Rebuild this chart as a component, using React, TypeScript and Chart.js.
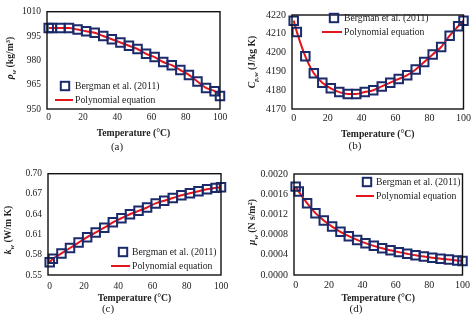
import React, { useEffect, useRef } from "react";
import { Chart, registerables } from "chart.js";

Chart.register(...registerables);

// ---------- data ----------
const temperature = [0, 1.85, 6.85, 11.85, 16.85, 21.85, 26.85, 31.85, 36.85, 41.85, 46.85, 51.85, 56.85, 61.85, 66.85, 71.85, 76.85, 81.85, 86.85, 91.85, 96.85, 100];
const densityBergman = [1000, 1000, 1000, 1000, 999, 998, 997, 995, 993, 991, 989, 987, 984, 982, 979, 977, 974, 971, 967, 963, 961, 958];
const cpBergman = [4217, 4211, 4198, 4189, 4184, 4181, 4179, 4178, 4178, 4179, 4180, 4182, 4184, 4186, 4188, 4191, 4195, 4199, 4203, 4209, 4214, 4217];
const kBergman = [0.569, 0.574, 0.582, 0.59, 0.598, 0.606, 0.613, 0.62, 0.628, 0.634, 0.64, 0.645, 0.65, 0.656, 0.66, 0.664, 0.668, 0.671, 0.674, 0.677, 0.679, 0.68];
const muBergman = [0.00175, 0.001652, 0.001422, 0.001225, 0.00108, 0.000959, 0.000855, 0.000769, 0.000695, 0.000631, 0.000577, 0.000528, 0.000489, 0.000453, 0.00042, 0.000389, 0.000365, 0.000343, 0.000324, 0.000306, 0.000289, 0.000279];

const xTicks = [0, 20, 40, 60, 80, 100];
const rhoTicks = [950, 965, 980, 995, 1010];
const cpTicks = [4170, 4180, 4190, 4200, 4210, 4220];
const kTicks = [0.55, 0.58, 0.61, 0.64, 0.67, 0.7];
const muTicks = [0, 0.0004, 0.0008, 0.0012, 0.0016, 0.002];

const legendLabels = ["Bergman et al. (2011)", "Polynomial equation"];
const xTitle = "Temperature (°C)";
const captions = ["(a)", "(b)", "(c)", "(d)"];

// ---------- styles ----------
const FONT = '"Liberation Serif", "Times New Roman", serif';
const NAVY = "#1b2a6b";
const RED = "#e3151b";
const TEXT = "#222222";

type Seg = { t: string; it?: boolean; sub?: boolean; sup?: boolean };

type PanelSpec = {
  x: number; y: number; w: number; h: number;
  area: { l: number; r: number; t: number; b: number };
  values: number[];
  yTicks: number[];
  dec: number;
  yTitle: Seg[];
  yTitlePos: [number, number];
  caption: string;
  capPos: [number, number];
  legend: { mx: number; y1: number; y2: number; lx1: number; lx2: number; tx: number };
  xPad: number;
  xH: number;
  tickSize: number;
};

const panels: PanelSpec[] = [
  {
    x: 0, y: 0, w: 237, h: 162,
    area: { l: 47, r: 220, t: 7, b: 109 },
    values: densityBergman, yTicks: rhoTicks, dec: 0,
    yTitle: [{ t: "ρ", it: true }, { t: "w", it: true, sub: true }, { t: " (kg/m" }, { t: "3", sup: true }, { t: ")" }],
    yTitlePos: [10, 58],
    caption: captions[0], capPos: [117, 147],
    legend: { mx: 65, y1: 86, y2: 100, lx1: 55, lx2: 73, tx: 75 },
    xPad: 3, xH: 30, tickSize: 9.5,
  },
  {
    x: 237, y: 0, w: 237, h: 162,
    area: { l: 55, r: 227, t: 15, b: 109 },
    values: cpBergman, yTicks: cpTicks, dec: 0,
    yTitle: [{ t: "C", it: true }, { t: "p,w", it: true, sub: true }, { t: " (J/kg K)" }],
    yTitlePos: [15, 62],
    caption: captions[1], capPos: [118, 146],
    legend: { mx: 97, y1: 18, y2: 32, lx1: 85, lx2: 105, tx: 107 },
    xPad: 3, xH: 31, tickSize: 10,
  },
  {
    x: 0, y: 162, w: 237, h: 161,
    area: { l: 48, r: 221, t: 11, b: 113 },
    values: kBergman, yTicks: kTicks, dec: 2,
    yTitle: [{ t: "k", it: true }, { t: "w", it: true, sub: true }, { t: " (W/m K)" }],
    yTitlePos: [8, 68],
    caption: captions[2], capPos: [108, 147],
    legend: { mx: 123, y1: 90, y2: 104, lx1: 111, lx2: 130, tx: 132 },
    xPad: 6, xH: 29, tickSize: 9.5,
  },
  {
    x: 237, y: 162, w: 237, h: 161,
    area: { l: 57, r: 227, t: 10, b: 113 },
    values: muBergman, yTicks: muTicks, dec: 4,
    yTitle: [{ t: "μ", it: true }, { t: "w", it: true, sub: true }, { t: " (N s/m" }, { t: "2", sup: true }, { t: ")" }],
    yTitlePos: [15, 60],
    caption: captions[3], capPos: [119, 147],
    legend: { mx: 130, y1: 20, y2: 34, lx1: 119, lx2: 137, tx: 139 },
    xPad: 4, xH: 29, tickSize: 10,
  },
];

function drawRich(ctx: CanvasRenderingContext2D, segs: Seg[], cx: number, cy: number, size: number) {
  const fontFor = (s: Seg) => {
    const sz = s.sub || s.sup ? size * 0.68 : size;
    return `${s.it ? "italic " : ""}bold ${sz}px ${FONT}`;
  };
  let total = 0;
  const widths = segs.map((s) => {
    ctx.font = fontFor(s);
    const w = ctx.measureText(s.t).width;
    total += w;
    return w;
  });
  ctx.save();
  ctx.translate(cx, cy);
  ctx.rotate(-Math.PI / 2);
  ctx.fillStyle = TEXT;
  ctx.textBaseline = "alphabetic";
  ctx.textAlign = "left";
  let x = -total / 2;
  const base = size * 0.35;
  segs.forEach((s, i) => {
    ctx.font = fontFor(s);
    let y = base;
    if (s.sub) y += size * 0.22;
    if (s.sup) y -= size * 0.4;
    ctx.fillText(s.t, x, y);
    x += widths[i];
  });
  ctx.restore();
}

function Panel({ spec }: { spec: PanelSpec }) {
  const ref = useRef<HTMLCanvasElement | null>(null);
  useEffect(() => {
    const canvas = ref.current;
    if (!canvas) return;
    const { area, w, h } = spec;

    const decor = {
      id: "decor",
      afterDraw(chart: any) {
        const ctx: CanvasRenderingContext2D = chart.ctx;
        const ca = chart.chartArea;
        ctx.save();
        // frame
        ctx.strokeStyle = "#111111";
        ctx.lineWidth = 1.4;
        ctx.strokeRect(ca.left, ca.top, ca.right - ca.left, ca.bottom - ca.top);
        // legend
        const lg = spec.legend;
        ctx.strokeStyle = NAVY;
        ctx.lineWidth = 2;
        ctx.strokeRect(lg.mx - 4.2, lg.y1 - 4.2, 8.4, 8.4);
        ctx.strokeStyle = RED;
        ctx.lineWidth = 2;
        ctx.beginPath();
        ctx.moveTo(lg.lx1, lg.y2);
        ctx.lineTo(lg.lx2, lg.y2);
        ctx.stroke();
        ctx.fillStyle = TEXT;
        ctx.font = `9.7px ${FONT}`;
        ctx.textAlign = "left";
        ctx.textBaseline = "middle";
        ctx.fillText(legendLabels[0], lg.tx, lg.y1);
        ctx.fillText(legendLabels[1], lg.tx, lg.y2);
        // caption
        ctx.font = `11px ${FONT}`;
        ctx.textAlign = "center";
        ctx.fillText(spec.caption, spec.capPos[0], spec.capPos[1]);
        ctx.restore();
        // y title
        drawRich(ctx, spec.yTitle, spec.yTitlePos[0], spec.yTitlePos[1], 9.7);
      },
    };

    const pts = temperature.map((x, i) => ({ x, y: spec.values[i] }));
    const yMin = spec.yTicks[0];
    const yMax = spec.yTicks[spec.yTicks.length - 1];

    const chart = new Chart(canvas, {
      type: "scatter",
      data: {
        datasets: [
          {
            label: legendLabels[0],
            data: pts,
            pointStyle: "rect",
            pointRadius: 6,
            pointBorderWidth: 2,
            borderColor: NAVY,
            backgroundColor: "rgba(0,0,0,0)",
            pointBackgroundColor: "rgba(0,0,0,0)",
            pointBorderColor: NAVY,
            showLine: false,
            clip: false as any,
          },
          {
            label: legendLabels[1],
            data: pts,
            showLine: true,
            borderColor: RED,
            borderWidth: 2,
            pointRadius: 0,
            cubicInterpolationMode: "monotone",
            clip: false as any,
          },
        ],
      } as any,
      options: {
        responsive: false,
        animation: false,
        events: [],
        layout: { padding: { left: 0, top: area.t, right: w - area.r, bottom: h - area.b - spec.xH } },
        plugins: { legend: { display: false }, tooltip: { enabled: false }, title: { display: false } },
        scales: {
          x: {
            type: "linear",
            min: -1,
            max: 100,
            grid: { display: false, drawTicks: false },
            border: { display: false },
            ticks: { padding: spec.xPad, color: TEXT, font: { family: FONT, size: spec.tickSize }, maxRotation: 0, autoSkip: false },
            afterBuildTicks: (s: any) => { s.ticks = xTicks.map((v) => ({ value: v })); },
            afterFit: (s: any) => { s.height = spec.xH; },
            title: { display: true, text: xTitle, color: TEXT, font: { family: FONT, size: 9.7, weight: "bold" }, padding: 0 },
          },
          y: {
            type: "linear",
            min: yMin,
            max: yMax,
            grid: { display: false, drawTicks: false },
            border: { display: false },
            ticks: {
              padding: 6,
              color: TEXT,
              font: { family: FONT, size: spec.tickSize },
              autoSkip: false,
              callback: (v: any) => Number(v).toFixed(spec.dec),
            },
            afterBuildTicks: (s: any) => { s.ticks = spec.yTicks.map((v) => ({ value: v })); },
            afterFit: (s: any) => { s.width = area.l; },
          },
        },
      } as any,
      plugins: [decor],
    });
    return () => chart.destroy();
  }, [spec]);

  return (
    <div style={{ position: "absolute", left: spec.x, top: spec.y, width: spec.w, height: spec.h }}>
      <canvas ref={ref} width={spec.w} height={spec.h} style={{ display: "block", width: spec.w, height: spec.h }} />
    </div>
  );
}

export default function App() {
  return (
    <div style={{ position: "absolute", left: 0, top: 0, width: 474, height: 323, background: "#ffffff", overflow: "hidden" }}>
      {panels.map((p, i) => (
        <Panel key={i} spec={p} />
      ))}
    </div>
  );
}
